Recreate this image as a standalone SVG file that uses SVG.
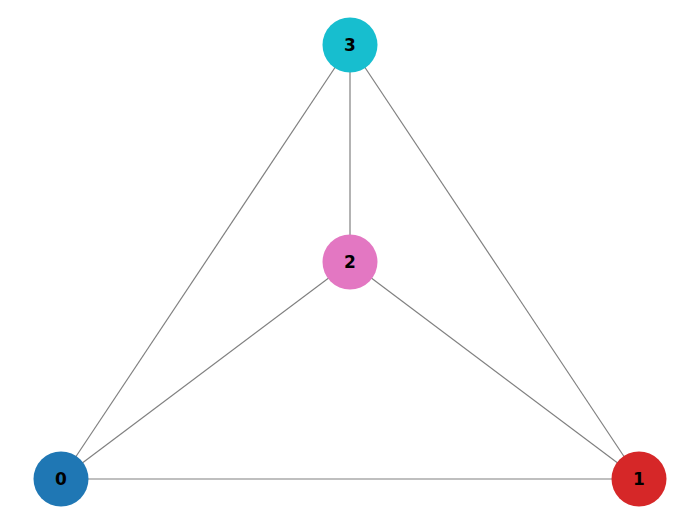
<svg xmlns="http://www.w3.org/2000/svg" width="700" height="525" viewBox="0 0 700 525">
<style>
.edge{stroke:#808080;stroke-width:1.2;fill:none}
.lbl{font-family:"DejaVu Sans",sans-serif;font-weight:bold;font-size:17px;fill:#000;text-anchor:middle;dominant-baseline:central}
</style>
<rect width="700" height="525" fill="#fff"/>
<g id="edges">
<line class="edge" x1="61" y1="479" x2="639" y2="479"/>
<line class="edge" x1="61" y1="479" x2="350" y2="262"/>
<line class="edge" x1="61" y1="479" x2="350" y2="45"/>
<line class="edge" x1="639" y1="479" x2="350" y2="262"/>
<line class="edge" x1="639" y1="479" x2="350" y2="45"/>
<line class="edge" x1="350" y1="262" x2="350" y2="45"/>
</g>
<g id="node0"><circle cx="61" cy="479" r="27.5" fill="#1f77b4"/><text class="lbl" x="61" y="479">0</text></g>
<g id="node1"><circle cx="639" cy="479" r="27.5" fill="#d62728"/><text class="lbl" x="639" y="479">1</text></g>
<g id="node2"><circle cx="350" cy="262" r="27.5" fill="#e377c2"/><text class="lbl" x="350" y="262">2</text></g>
<g id="node3"><circle cx="350" cy="45" r="27.5" fill="#17becf"/><text class="lbl" x="350" y="45">3</text></g>
</svg>
